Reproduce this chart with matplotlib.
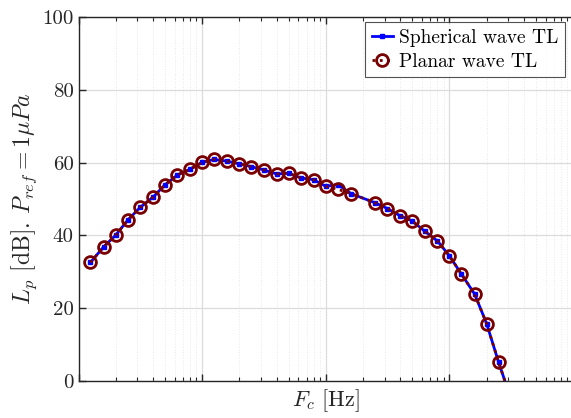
import numpy as np
import matplotlib
matplotlib.use("Agg")
import matplotlib.pyplot as plt
from matplotlib.ticker import LogLocator, NullFormatter

# 1/3 octave centre frequencies (2000 Hz band is missing in the data)
freqs = [12.5, 16, 20, 25, 31.5, 40, 50, 63, 80, 100, 125, 160, 200, 250,
         315, 400, 500, 630, 800, 1000, 1250, 1600, 2500, 3150, 4000, 5000,
         6300, 8000, 10000, 12500, 16000, 20000, 25000, 31500]

spherical_tl = [32.6, 36.9, 40.1, 44.2, 47.7, 50.5, 53.9, 56.6, 58.2, 60.1,
                60.9, 60.4, 59.7, 58.9, 58.0, 56.9, 57.1, 55.8, 55.3, 53.5,
                54.0, 51.5, 49.0, 47.4, 45.4, 44.0, 41.2, 38.5, 34.4, 29.4,
                23.9, 15.8, 5.2, -5.0]

planar_tl = [32.6, 36.9, 40.1, 44.2, 47.7, 50.5, 53.9, 56.6, 58.2, 60.1,
             60.9, 60.4, 59.7, 58.9, 58.0, 56.9, 57.1, 55.8, 55.3, 53.5,
             52.7, 51.5, 49.0, 47.4, 45.4, 44.0, 41.2, 38.5, 34.4, 29.4,
             23.9, 15.8, 5.2, -5.0]

y_ticks = [0, 20, 40, 60, 80, 100]

plt.rcParams['font.family'] = 'serif'
plt.rcParams['font.serif'] = ['cmr10', 'DejaVu Serif']
plt.rcParams['mathtext.fontset'] = 'cm'
plt.rcParams['axes.unicode_minus'] = False

fig = plt.figure(figsize=(5.71, 4.18), dpi=100)
ax = fig.add_axes([0.1375, 0.0885, 0.866, 0.8705])

ax.plot(freqs, spherical_tl, '-', color='#0000ff', lw=2.0, marker='s',
        markersize=2.5, label='Spherical wave TL', zorder=3)
ax.plot(freqs, planar_tl, ':', color='#780000', lw=2.0, marker='o',
        markersize=8.5, markerfacecolor='none', markeredgewidth=2.0,
        label='Planar wave TL', zorder=4)

ax.set_xscale('log')
ax.set_xlim(10, 1e5)
ax.set_ylim(0, 100)
ax.set_yticks(y_ticks)
ax.xaxis.set_major_locator(LogLocator(base=10, numticks=10))
ax.xaxis.set_minor_locator(LogLocator(base=10, subs=np.arange(2, 10), numticks=20))
ax.xaxis.set_major_formatter(NullFormatter())
ax.xaxis.set_minor_formatter(NullFormatter())

ax.grid(True, which='major', color='#dcdcdc', lw=0.9, ls='-')
ax.grid(True, which='minor', axis='x', color='#e8e8e8', lw=0.7, ls=':')
ax.set_axisbelow(True)

ax.tick_params(which='both', direction='in', top=True, right=False,
               labelsize=15, colors='#262626')
ax.tick_params(which='major', length=5, width=1.0)
ax.tick_params(which='minor', length=3, width=0.8)
for s in ['left', 'bottom', 'top']:
    ax.spines[s].set_color('#262626')
    ax.spines[s].set_linewidth(1.0)
ax.spines['right'].set_visible(False)

ax.set_xlabel(r'$F_c$ [Hz]', fontsize=16, color='#262626', labelpad=1)
ax.set_ylabel(r'$L_p$ [dB]. $P_{ref}=1\mu Pa$', fontsize=17, color='#262626',
              labelpad=2)

leg = ax.legend(loc='upper right', bbox_to_anchor=(565 / 571, 1 - 22 / 418),
                bbox_transform=fig.transFigure, fontsize=14, frameon=True,
                fancybox=False, handlelength=1.1, handletextpad=0.3,
                borderpad=0.35, labelspacing=0.3, borderaxespad=0)
leg.get_frame().set_edgecolor('#262626')
leg.get_frame().set_linewidth(0.8)

fig.savefig('out.png', dpi=100)
